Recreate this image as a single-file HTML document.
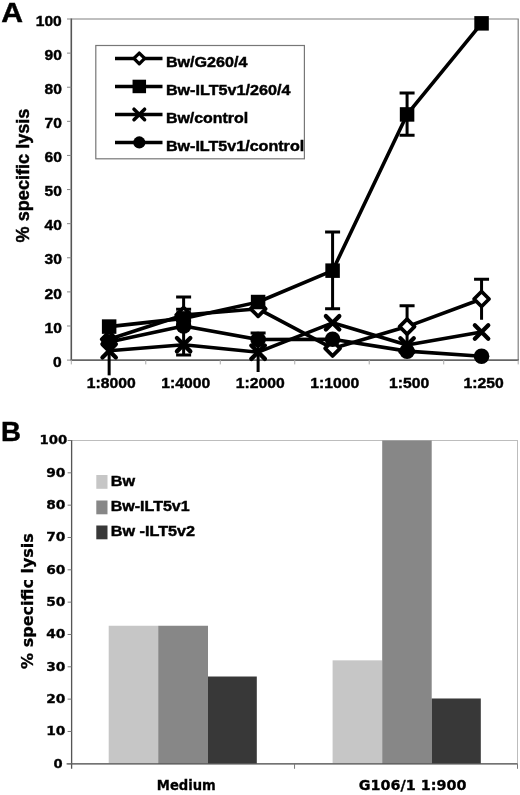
<!DOCTYPE html>
<html lang="en"><head><meta charset="utf-8"><title>Figure</title>
<style>html,body{margin:0;padding:0;background:#fff}body{width:520px;height:795px;overflow:hidden}svg{display:block;will-change:transform;filter:blur(.35px)}.a{font-family:"Liberation Sans",Arial,sans-serif;font-weight:bold;fill:#000;stroke:#000;stroke-width:.45px}.v{font-family:"DejaVu Sans",Verdana,sans-serif;font-weight:bold;fill:#000;stroke:#000;stroke-width:.3px}</style></head><body>
<svg width="520" height="795" viewBox="0 0 520 795">
<rect width="520" height="795" fill="#fff"/>
<text class="a" transform="translate(1.2 22.1) scale(1.04 .96)" font-size="29">A</text>
<path d="M71.3 19.0H518.2V360.1" fill="none" stroke="#808080" stroke-width="1.2"/>
<path d="M71.3 18.4V360.1" fill="none" stroke="#555" stroke-width="1.6"/>
<path d="M70.5 360.1H518.800" fill="none" stroke="#666" stroke-width="1.8"/>
<line x1="67.0" y1="360.10" x2="71.3" y2="360.10" stroke="#888" stroke-width="1"/>
<text class="a" transform="translate(61.8 366.80) scale(1 .94)" font-size="15.6" text-anchor="end">0</text>
<line x1="67.0" y1="325.99" x2="71.3" y2="325.99" stroke="#888" stroke-width="1"/>
<text class="a" transform="translate(61.8 332.69) scale(1 .94)" font-size="15.6" text-anchor="end">10</text>
<line x1="67.0" y1="291.88" x2="71.3" y2="291.88" stroke="#888" stroke-width="1"/>
<text class="a" transform="translate(61.8 298.58) scale(1 .94)" font-size="15.6" text-anchor="end">20</text>
<line x1="67.0" y1="257.77" x2="71.3" y2="257.77" stroke="#888" stroke-width="1"/>
<text class="a" transform="translate(61.8 264.47) scale(1 .94)" font-size="15.6" text-anchor="end">30</text>
<line x1="67.0" y1="223.66" x2="71.3" y2="223.66" stroke="#888" stroke-width="1"/>
<text class="a" transform="translate(61.8 230.36) scale(1 .94)" font-size="15.6" text-anchor="end">40</text>
<line x1="67.0" y1="189.55" x2="71.3" y2="189.55" stroke="#888" stroke-width="1"/>
<text class="a" transform="translate(61.8 196.25) scale(1 .94)" font-size="15.6" text-anchor="end">50</text>
<line x1="67.0" y1="155.44" x2="71.3" y2="155.44" stroke="#888" stroke-width="1"/>
<text class="a" transform="translate(61.8 162.14) scale(1 .94)" font-size="15.6" text-anchor="end">60</text>
<line x1="67.0" y1="121.33" x2="71.3" y2="121.33" stroke="#888" stroke-width="1"/>
<text class="a" transform="translate(61.8 128.03) scale(1 .94)" font-size="15.6" text-anchor="end">70</text>
<line x1="67.0" y1="87.22" x2="71.3" y2="87.22" stroke="#888" stroke-width="1"/>
<text class="a" transform="translate(61.8 93.92) scale(1 .94)" font-size="15.6" text-anchor="end">80</text>
<line x1="67.0" y1="53.11" x2="71.3" y2="53.11" stroke="#888" stroke-width="1"/>
<text class="a" transform="translate(61.8 59.81) scale(1 .94)" font-size="15.6" text-anchor="end">90</text>
<line x1="67.0" y1="19.00" x2="71.3" y2="19.00" stroke="#888" stroke-width="1"/>
<text class="a" transform="translate(61.8 25.70) scale(1 .94)" font-size="15.6" text-anchor="end">100</text>
<line x1="71.30" y1="360.1" x2="71.30" y2="364.400" stroke="#aaa" stroke-width="1"/>
<line x1="145.78" y1="360.1" x2="145.78" y2="364.400" stroke="#aaa" stroke-width="1"/>
<line x1="220.27" y1="360.1" x2="220.27" y2="364.400" stroke="#aaa" stroke-width="1"/>
<line x1="294.75" y1="360.1" x2="294.75" y2="364.400" stroke="#aaa" stroke-width="1"/>
<line x1="369.23" y1="360.1" x2="369.23" y2="364.400" stroke="#aaa" stroke-width="1"/>
<line x1="443.72" y1="360.1" x2="443.72" y2="364.400" stroke="#aaa" stroke-width="1"/>
<line x1="518.20" y1="360.1" x2="518.20" y2="364.400" stroke="#aaa" stroke-width="1"/>
<text class="a" transform="translate(111.24 388) scale(1 .95)" font-size="15.7" text-anchor="middle">1:8000</text>
<text class="a" transform="translate(185.72 388) scale(1 .95)" font-size="15.7" text-anchor="middle">1:4000</text>
<text class="a" transform="translate(260.21 388) scale(1 .95)" font-size="15.7" text-anchor="middle">1:2000</text>
<text class="a" transform="translate(334.69 388) scale(1 .95)" font-size="15.7" text-anchor="middle">1:1000</text>
<text class="a" transform="translate(409.18 388) scale(1 .95)" font-size="15.7" text-anchor="middle">1:500</text>
<text class="a" transform="translate(483.66 388) scale(1 .95)" font-size="15.7" text-anchor="middle">1:250</text>
<text class="a" font-size="18.1" text-anchor="middle" transform="translate(28.8,175.5) rotate(-90)">% specific lysis</text>
<rect x="95.8" y="45.5" width="208.6" height="113.3" fill="#fff" stroke="#777" stroke-width="1.2"/>
<line x1="115" y1="58.45" x2="162.5" y2="58.45" stroke="#000" stroke-width="3.6"/>
<path d="M133.90 58.45L139.30 53.05L144.70 58.45L139.30 63.85Z" fill="#fff" stroke="#000" stroke-width="3.3" stroke-linejoin="round"/>
<text class="a" x="165.9" y="66.70" font-size="15.3" textLength="81.5" lengthAdjust="spacingAndGlyphs">Bw/G260/4</text>
<line x1="115" y1="86.45" x2="162.5" y2="86.45" stroke="#000" stroke-width="3.6"/>
<rect x="132.55" y="79.70" width="13.5" height="13.5" fill="#000"/>
<text class="a" x="165.9" y="94.70" font-size="15.3" textLength="124.5" lengthAdjust="spacingAndGlyphs">Bw-ILT5v1/260/4</text>
<line x1="115" y1="114.45" x2="162.5" y2="114.45" stroke="#000" stroke-width="3.6"/>
<path d="M134.00 109.15L144.60 119.75M134.00 119.75L144.60 109.15" stroke="#000" stroke-width="3.5" stroke-linecap="round" fill="none"/>
<text class="a" x="165.9" y="122.70" font-size="15.3" textLength="82.3" lengthAdjust="spacingAndGlyphs">Bw/control</text>
<line x1="115" y1="142.45" x2="162.5" y2="142.45" stroke="#000" stroke-width="3.6"/>
<circle cx="139.30" cy="142.45" r="6.1" fill="#000"/>
<text class="a" x="165.9" y="150.70" font-size="15.3" textLength="138.3" lengthAdjust="spacingAndGlyphs">Bw-ILT5v1/control</text>
<polyline points="109.14,339.21 183.62,314.99 258.11,308.85 332.59,348.42 407.08,326.59 481.56,298.96" fill="none" stroke="#000" stroke-width="3.6" stroke-linejoin="round"/>
<path d="M183.62 320.79L183.62 309.19M176.12 309.19L191.12 309.19M176.12 320.79L191.12 320.79" stroke="#000" stroke-width="3" fill="none"/>
<path d="M407.08 347.06L407.08 305.78M399.58 305.78L414.58 305.78" stroke="#000" stroke-width="3" fill="none"/>
<path d="M481.56 319.77L481.56 279.18M474.06 279.18L489.06 279.18" stroke="#000" stroke-width="3" fill="none"/>
<polyline points="109.14,326.59 183.62,318.40 258.11,302.03 332.59,270.65 407.08,114.43 481.56,23.35" fill="none" stroke="#000" stroke-width="3.6" stroke-linejoin="round"/>
<path d="M332.59 308.85L332.59 232.11M325.09 232.11L340.09 232.11M325.09 308.85L340.09 308.85" stroke="#000" stroke-width="3" fill="none"/>
<path d="M407.08 135.23L407.08 92.94M399.58 92.94L414.58 92.94M399.58 135.23L414.58 135.23" stroke="#000" stroke-width="3" fill="none"/>
<polyline points="109.14,350.81 183.62,344.67 258.11,352.17 332.59,322.84 407.08,345.01 481.56,332.05" fill="none" stroke="#000" stroke-width="3.6" stroke-linejoin="round"/>
<path d="M109.14 375.37L109.14 324.88" stroke="#000" stroke-width="3" fill="none"/>
<path d="M258.11 371.96L258.11 333.07M250.61 333.07L265.61 333.07" stroke="#000" stroke-width="3" fill="none"/>
<polyline points="109.14,341.94 183.62,325.91 258.11,339.55 332.59,339.21 407.08,351.15 481.56,356.27" fill="none" stroke="#000" stroke-width="3.6" stroke-linejoin="round"/>
<path d="M183.62 354.90L183.62 296.91M176.12 296.91L191.12 296.91M176.12 354.90L191.12 354.90" stroke="#000" stroke-width="3" fill="none"/>
<path d="M101.64 339.21L109.14 331.71L116.64 339.21L109.14 346.71Z" fill="#fff" stroke="#000" stroke-width="3.7" stroke-linejoin="round"/>
<path d="M176.12 314.99L183.62 307.49L191.12 314.99L183.62 322.49Z" fill="#fff" stroke="#000" stroke-width="3.7" stroke-linejoin="round"/>
<path d="M250.61 308.85L258.11 301.35L265.61 308.85L258.11 316.35Z" fill="#fff" stroke="#000" stroke-width="3.7" stroke-linejoin="round"/>
<path d="M325.09 348.42L332.59 340.92L340.09 348.42L332.59 355.92Z" fill="#fff" stroke="#000" stroke-width="3.7" stroke-linejoin="round"/>
<path d="M399.58 326.59L407.08 319.09L414.58 326.59L407.08 334.09Z" fill="#fff" stroke="#000" stroke-width="3.7" stroke-linejoin="round"/>
<path d="M474.06 298.96L481.56 291.46L489.06 298.96L481.56 306.46Z" fill="#fff" stroke="#000" stroke-width="3.7" stroke-linejoin="round"/>
<rect x="101.89" y="319.34" width="14.5" height="14.5" fill="#000"/>
<rect x="176.37" y="311.15" width="14.5" height="14.5" fill="#000"/>
<rect x="250.86" y="294.78" width="14.5" height="14.5" fill="#000"/>
<rect x="325.34" y="263.40" width="14.5" height="14.5" fill="#000"/>
<rect x="399.83" y="107.18" width="14.5" height="14.5" fill="#000"/>
<rect x="474.31" y="16.10" width="14.5" height="14.5" fill="#000"/>
<path d="M102.44 344.11L115.84 357.51M102.44 357.51L115.84 344.11" stroke="#000" stroke-width="4.3" stroke-linecap="round" fill="none"/>
<path d="M176.92 337.97L190.32 351.37M176.92 351.37L190.32 337.97" stroke="#000" stroke-width="4.3" stroke-linecap="round" fill="none"/>
<path d="M251.41 345.47L264.81 358.87M251.41 358.87L264.81 345.47" stroke="#000" stroke-width="4.3" stroke-linecap="round" fill="none"/>
<path d="M325.89 316.14L339.29 329.54M325.89 329.54L339.29 316.14" stroke="#000" stroke-width="4.3" stroke-linecap="round" fill="none"/>
<path d="M400.38 338.31L413.78 351.71M400.38 351.71L413.78 338.31" stroke="#000" stroke-width="4.3" stroke-linecap="round" fill="none"/>
<path d="M474.86 325.35L488.26 338.75M474.86 338.75L488.26 325.35" stroke="#000" stroke-width="4.3" stroke-linecap="round" fill="none"/>
<circle cx="109.14" cy="341.94" r="7.8" fill="#000"/>
<circle cx="183.62" cy="325.91" r="7.8" fill="#000"/>
<circle cx="258.11" cy="339.55" r="7.8" fill="#000"/>
<circle cx="332.59" cy="339.21" r="7.8" fill="#000"/>
<circle cx="407.08" cy="351.15" r="7.8" fill="#000"/>
<circle cx="481.56" cy="356.27" r="7.8" fill="#000"/>
<text class="a" x="0.9" y="440.7" font-size="27.6">B</text>
<rect x="71.6" y="440.5" width="445.9" height="323.299" fill="#fff" stroke="#bdbdbd" stroke-width="1"/>
<rect x="108.7" y="625.75" width="49.50" height="138.05" fill="#c6c6c6"/>
<rect x="158.2" y="625.75" width="49.80" height="138.05" fill="#878787"/>
<rect x="208" y="676.51" width="48.80" height="87.29" fill="#383838"/>
<rect x="332.6" y="660.34" width="49.60" height="103.46" fill="#c6c6c6"/>
<rect x="382.2" y="440.50" width="49.50" height="323.30" fill="#878787"/>
<rect x="431.7" y="698.49" width="49.10" height="65.31" fill="#383838"/>
<line x1="71.6" y1="440.0" x2="71.6" y2="768.8" stroke="#555" stroke-width="1.3"/>
<line x1="66.6" y1="763.8" x2="517.5" y2="763.8" stroke="#555" stroke-width="1.3"/>
<line x1="67.6" y1="763.80" x2="71.6" y2="763.80" stroke="#777" stroke-width="1"/>
<text class="v" x="53.60" y="767.70" font-size="12" textLength="9.10" lengthAdjust="spacingAndGlyphs">0</text>
<line x1="67.6" y1="731.47" x2="71.6" y2="731.47" stroke="#777" stroke-width="1"/>
<text class="v" x="46.19" y="735.37" font-size="12" textLength="19.21" lengthAdjust="spacingAndGlyphs">10</text>
<line x1="67.6" y1="699.14" x2="71.6" y2="699.14" stroke="#777" stroke-width="1"/>
<text class="v" x="46.19" y="703.04" font-size="12" textLength="19.21" lengthAdjust="spacingAndGlyphs">20</text>
<line x1="67.6" y1="666.81" x2="71.6" y2="666.81" stroke="#777" stroke-width="1"/>
<text class="v" x="46.19" y="670.71" font-size="12" textLength="19.21" lengthAdjust="spacingAndGlyphs">30</text>
<line x1="67.6" y1="634.48" x2="71.6" y2="634.48" stroke="#777" stroke-width="1"/>
<text class="v" x="46.19" y="638.38" font-size="12" textLength="19.21" lengthAdjust="spacingAndGlyphs">40</text>
<line x1="67.6" y1="602.15" x2="71.6" y2="602.15" stroke="#777" stroke-width="1"/>
<text class="v" x="46.19" y="606.05" font-size="12" textLength="19.21" lengthAdjust="spacingAndGlyphs">50</text>
<line x1="67.6" y1="569.82" x2="71.6" y2="569.82" stroke="#777" stroke-width="1"/>
<text class="v" x="46.19" y="573.72" font-size="12" textLength="19.21" lengthAdjust="spacingAndGlyphs">60</text>
<line x1="67.6" y1="537.49" x2="71.6" y2="537.49" stroke="#777" stroke-width="1"/>
<text class="v" x="46.19" y="541.39" font-size="12" textLength="19.21" lengthAdjust="spacingAndGlyphs">70</text>
<line x1="67.6" y1="505.16" x2="71.6" y2="505.16" stroke="#777" stroke-width="1"/>
<text class="v" x="46.19" y="509.06" font-size="12" textLength="19.21" lengthAdjust="spacingAndGlyphs">80</text>
<line x1="67.6" y1="472.83" x2="71.6" y2="472.83" stroke="#777" stroke-width="1"/>
<text class="v" x="46.19" y="476.73" font-size="12" textLength="19.21" lengthAdjust="spacingAndGlyphs">90</text>
<line x1="67.6" y1="440.50" x2="71.6" y2="440.50" stroke="#777" stroke-width="1"/>
<text class="v" x="39.59" y="444.40" font-size="12" textLength="27.81" lengthAdjust="spacingAndGlyphs">100</text>
<line x1="294.55" y1="763.8" x2="294.55" y2="768.8" stroke="#777" stroke-width="1"/>
<line x1="517.50" y1="763.8" x2="517.50" y2="768.8" stroke="#777" stroke-width="1"/>
<text class="v" x="156.8" y="790" font-size="13.6" textLength="59" lengthAdjust="spacingAndGlyphs">Medium</text>
<text class="v" x="358.8" y="790.3" font-size="13.6" textLength="107.8" lengthAdjust="spacingAndGlyphs">G106/1 1:900</text>
<text class="v" font-size="16" text-anchor="middle" transform="translate(33.2,601) rotate(-90)">% specific lysis</text>
<rect x="96.3" y="475" width="11.2" height="13.8" fill="#c6c6c6"/>
<text class="a" x="110.8" y="485.5" font-size="15.3" textLength="24.3" lengthAdjust="spacingAndGlyphs">Bw</text>
<rect x="96.3" y="500.5" width="11.2" height="13.8" fill="#878787"/>
<text class="a" x="110.8" y="511.2" font-size="15.3" textLength="78.8" lengthAdjust="spacingAndGlyphs">Bw-ILT5v1</text>
<rect x="96.3" y="525.5" width="11.2" height="13.8" fill="#383838"/>
<text class="a" x="110.8" y="536.3" font-size="15.3" textLength="84.3" lengthAdjust="spacingAndGlyphs">Bw -ILT5v2</text>
</svg></body></html>
